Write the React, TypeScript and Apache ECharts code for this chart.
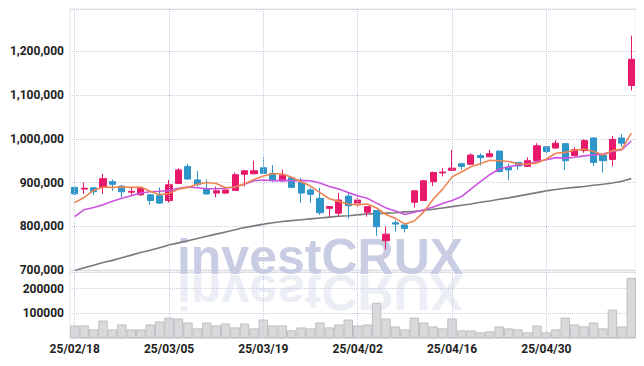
import React, { useEffect, useRef } from "react";
import * as echarts from "echarts";

const dates = [
  "25/02/18","25/02/19","25/02/20","25/02/21","25/02/24","25/02/25","25/02/26","25/02/27","25/02/28",
  "25/03/04","25/03/05","25/03/06","25/03/07","25/03/10","25/03/11","25/03/12","25/03/13","25/03/14",
  "25/03/17","25/03/18","25/03/19","25/03/20","25/03/21","25/03/24","25/03/25","25/03/26","25/03/27",
  "25/03/28","25/03/31","25/04/01","25/04/02","25/04/03","25/04/04","25/04/07","25/04/08","25/04/09",
  "25/04/10","25/04/11","25/04/14","25/04/15","25/04/16","25/04/17","25/04/18","25/04/21","25/04/22",
  "25/04/23","25/04/24","25/04/25","25/04/28","25/04/29","25/04/30","25/05/02","25/05/07","25/05/08",
  "25/05/09","25/05/12","25/05/13","25/05/14","25/05/15","25/05/16"
];

// [open, close, low, high] in thousands
const ohlcK: number[][] = [
  [889, 874, 872, 891], [885, 887, 874, 900], [888, 879, 872, 889], [889, 909, 874, 920],
  [902, 896, 881, 907], [892, 879, 866, 894], [878, 880, 872, 888], [872, 887, 870, 889],
  [872, 859, 849, 873], [870, 853, 851, 889], [859, 895, 854, 906], [898, 929, 896, 933],
  [937, 908, 906, 943], [906, 896, 891, 927], [885, 874, 872, 907], [876, 881, 866, 891],
  [876, 883, 874, 884], [882, 918, 881, 923], [919, 927, 891, 928], [920, 927, 919, 950],
  [934, 921, 920, 959], [921, 906, 902, 940], [904, 917, 902, 930], [911, 889, 887, 912],
  [900, 876, 854, 911], [883, 873, 854, 888], [864, 831, 826, 888], [841, 845, 822, 846],
  [830, 860, 822, 876], [869, 847, 818, 876], [853, 860, 845, 872], [832, 845, 822, 846],
  [836, 799, 778, 837], [767, 782, 747, 799], [808, 805, 788, 814], [803, 795, 786, 804],
  [855, 881, 843, 883], [859, 904, 858, 906], [902, 923, 892, 925], [922, 924, 914, 933],
  [928, 933, 927, 975], [943, 937, 929, 944], [942, 963, 941, 967], [962, 957, 939, 967],
  [959, 966, 958, 975], [972, 925, 924, 973], [935, 929, 906, 943], [946, 938, 929, 947],
  [937, 950, 936, 958], [950, 984, 949, 990], [982, 971, 966, 983], [979, 990, 977, 997],
  [989, 950, 929, 990], [962, 975, 960, 981], [973, 996, 968, 999], [1002, 946, 938, 1003],
  [963, 950, 923, 964], [953, 999, 937, 1007], [1002, 990, 982, 1011], [1122, 1182, 1111, 1236]
];

const ma5K = [
  854, 866, 882, 890, 889, 890, 889, 890, 880, 872, 875, 885, 889, 896, 900, 898, 888, 890, 897, 907,
  915, 920, 920, 912, 902, 892, 877, 863, 857, 851, 849, 851, 842, 827, 818, 805, 812, 833, 862, 885,
  913, 924, 936, 943, 951, 950, 948, 943, 942, 945, 954, 967, 969, 974, 976, 971, 963, 973, 976, 1013
];

const ma10K = [
  822, 838, 843, 849, 857, 864, 870, 876, 879, 880, 882, 887, 890, 888, 886, 886, 887, 890, 896, 904,
  906, 904, 905, 904, 905, 904, 899, 891, 885, 877, 870, 864, 853, 842, 835, 827, 832, 838, 844, 852,
  859, 868, 885, 902, 918, 931, 936, 940, 942, 948, 952, 957, 956, 958, 961, 963, 965, 971, 975, 995
];

const maLongK = [
  699, 705, 711, 717, 722, 728, 734, 740, 745, 751, 757, 762, 767, 772, 777, 782, 787, 792, 797, 801,
  805, 808, 811, 813, 815, 817, 819, 821, 823, 824, 826, 828, 829, 830, 831, 833, 834, 836, 839, 842,
  845, 848, 851, 855, 858, 862, 865, 869, 873, 877, 881, 884, 887, 889, 891, 894, 896, 899, 903, 909
];

const volumesK = [
  51, 51, 35, 71, 35, 55, 35, 35, 55, 67, 83, 79, 63, 39, 63, 51, 59, 43, 59, 39,
  75, 51, 51, 31, 43, 39, 63, 43, 55, 75, 51, 55, 143, 79, 47, 35, 83, 63, 47, 39,
  79, 31, 31, 23, 27, 47, 39, 35, 23, 51, 23, 35, 83, 55, 47, 63, 39, 115, 47, 244
];

const labelDates = dates.filter((_, i) => i % 10 === 0);

const priceTicks = { min: 700000, max: 1297000, step: 100000 };
const volTicks = { min: 0, max: 268000, step: 100000 };

const UP = "#e8196a";
const DOWN = "#2e95c9";
const FONT = "Roboto";
const GRIDLINE = "#c9cbe0";

export default function App() {
  const ref = useRef<HTMLDivElement>(null);
  useEffect(() => {
    if (!ref.current) return;
    const chart = echarts.init(ref.current, undefined, { renderer: "svg" });
    const k = (v: number) => v * 1000;
    const candles = ohlcK.map((r) => r.map(k));
    const splitLine = { show: true, lineStyle: { color: GRIDLINE, type: "dotted", width: 1 } };
    const labelStyle = { color: "#222", fontSize: 12, fontWeight: "bold" as const, fontFamily: FONT };
    const vLines = {
      silent: true,
      symbol: ["none", "none"],
      label: { show: false },
      lineStyle: { color: GRIDLINE, type: "dotted", width: 1 },
      emphasis: { disabled: true },
      data: labelDates.map((d) => ({ xAxis: d })),
    };
    chart.setOption({
      animation: false,
      backgroundColor: "#fff",
      grid: [
        { left: 70, right: 8, top: 9, height: 261, show: true, borderColor: "#e4e4ea", borderWidth: 1 },
        { left: 70, right: 8, top: 272, height: 66, show: true, borderColor: "#e4e4ea", borderWidth: 1 },
      ],
      graphic: [
        {
          type: "text",
          z: 0,
          x: 320,
          y: 257,
          style: {
            text: "investCRUX",
            fill: "#c8cde4",
            font: "bold 50px 'Liberation Sans', Arial, sans-serif",
            textAlign: "center",
            textVerticalAlign: "middle",
          },
          silent: true,
        },
        {
          type: "text",
          z: 0,
          x: 320,
          y: 275,
          scaleY: -1,
          style: {
            text: "investCRUX",
            y: -17,
            fill: "#eceef5",
            font: "bold 50px 'Liberation Sans', Arial, sans-serif",
            textAlign: "center",
            textVerticalAlign: "middle",
          },
          silent: true,
        },
      ],
      xAxis: [
        {
          type: "category",
          gridIndex: 0,
          data: dates,
          boundaryGap: true,
          axisLine: { show: false },
          axisTick: { show: false },
          axisLabel: { show: false },
          splitLine: { show: false },
        },
        {
          type: "category",
          gridIndex: 1,
          data: dates,
          boundaryGap: true,
          axisLine: { show: false },
          axisTick: { show: false },
          axisLabel: { ...labelStyle, interval: 9, margin: 5 },
          splitLine: { show: false },
        },
      ],
      yAxis: [
        {
          type: "value",
          gridIndex: 0,
          min: priceTicks.min,
          max: priceTicks.max,
          interval: priceTicks.step,
          axisLine: { show: false },
          axisTick: { show: false },
          splitLine,
          axisLabel: {
            ...labelStyle,
            margin: 6,
            showMaxLabel: false,
            formatter: (v: number) => v.toLocaleString("en-US"),
          },
        },
        {
          type: "value",
          gridIndex: 1,
          min: volTicks.min,
          max: volTicks.max,
          interval: volTicks.step,
          axisLine: { show: false },
          axisTick: { show: false },
          splitLine,
          axisLabel: {
            ...labelStyle,
            margin: 6,
            showMaxLabel: false,
            showMinLabel: false,
            formatter: (v: number) => String(v),
          },
        },
      ],
      series: [
        {
          type: "line",
          data: maLongK.map(k),
          xAxisIndex: 0,
          yAxisIndex: 0,
          symbol: "none",
          lineStyle: { color: "#7a7a7a", width: 1.6 },
          markLine: vLines,
          z: 3,
        },
        {
          type: "candlestick",
          data: candles,
          xAxisIndex: 0,
          yAxisIndex: 0,
          barWidth: "70%",
          itemStyle: { color: UP, color0: DOWN, borderColor: UP, borderColor0: DOWN, borderWidth: 1 },
          z: 4,
        },
        {
          type: "line",
          data: ma10K.map(k),
          xAxisIndex: 0,
          yAxisIndex: 0,
          symbol: "none",
          lineStyle: { color: "#cc55e0", width: 1.6 },
          z: 5,
        },
        {
          type: "line",
          data: ma5K.map(k),
          xAxisIndex: 0,
          yAxisIndex: 0,
          symbol: "none",
          lineStyle: { color: "#ee8450", width: 1.6 },
          z: 6,
        },
        {
          type: "bar",
          data: volumesK.map(k),
          xAxisIndex: 1,
          yAxisIndex: 1,
          barWidth: "100%",
          itemStyle: { color: "#d9d9db", borderColor: "#bfbfc3", borderWidth: 1 },
          markLine: vLines,
          z: 3,
        },
      ],
    });
    return () => chart.dispose();
  }, []);
  return <div ref={ref} style={{ width: 644, height: 366, margin: -8 }} />;
}
